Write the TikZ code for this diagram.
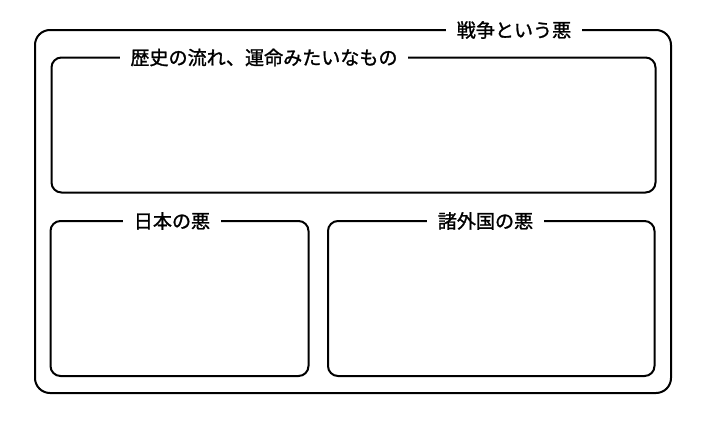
\documentclass[tikz,border=0pt]{standalone}
\usepackage{fontspec}
\newfontfamily\jpfont[FakeBold=1.3]{Noto Sans CJK JP}
\begin{document}
\begin{tikzpicture}[x=0.75pt,y=-0.75pt,
  frame/.style={draw=black,line width=1.5pt,inner sep=0pt},
  outerframe/.style={frame,rounded corners=11.25pt},
  innerframe/.style={frame,rounded corners=7.5pt},
  lbl/.style={fill=white,inner xsep=8pt,inner ysep=1pt,font=\jpfont\fontsize{14.3}{16}\selectfont}]
\useasboundingbox (0,0) rectangle (704,422);
\node[outerframe,minimum width=636*0.75pt,minimum height=363*0.75pt] (war) at (353,211.5) {};
\node[innerframe,minimum width=604*0.75pt,minimum height=135*0.75pt] (hist) at (353.5,125) {};
\node[innerframe,minimum width=258*0.75pt,minimum height=155*0.75pt] (japan) at (179.5,298.5) {};
\node[innerframe,minimum width=326.5*0.75pt,minimum height=155*0.75pt] (foreign) at (491.25,298.5) {};
\node[lbl] (warl) at (514,30) {戦争という悪};
\node[lbl] (histl) at (264,57.5) {歴史の流れ、運命みたいなもの};
\node[lbl] (japanl) at (172,221) {日本の悪};
\node[lbl] (foreignl) at (485.5,221) {諸外国の悪};
\end{tikzpicture}
\end{document}
